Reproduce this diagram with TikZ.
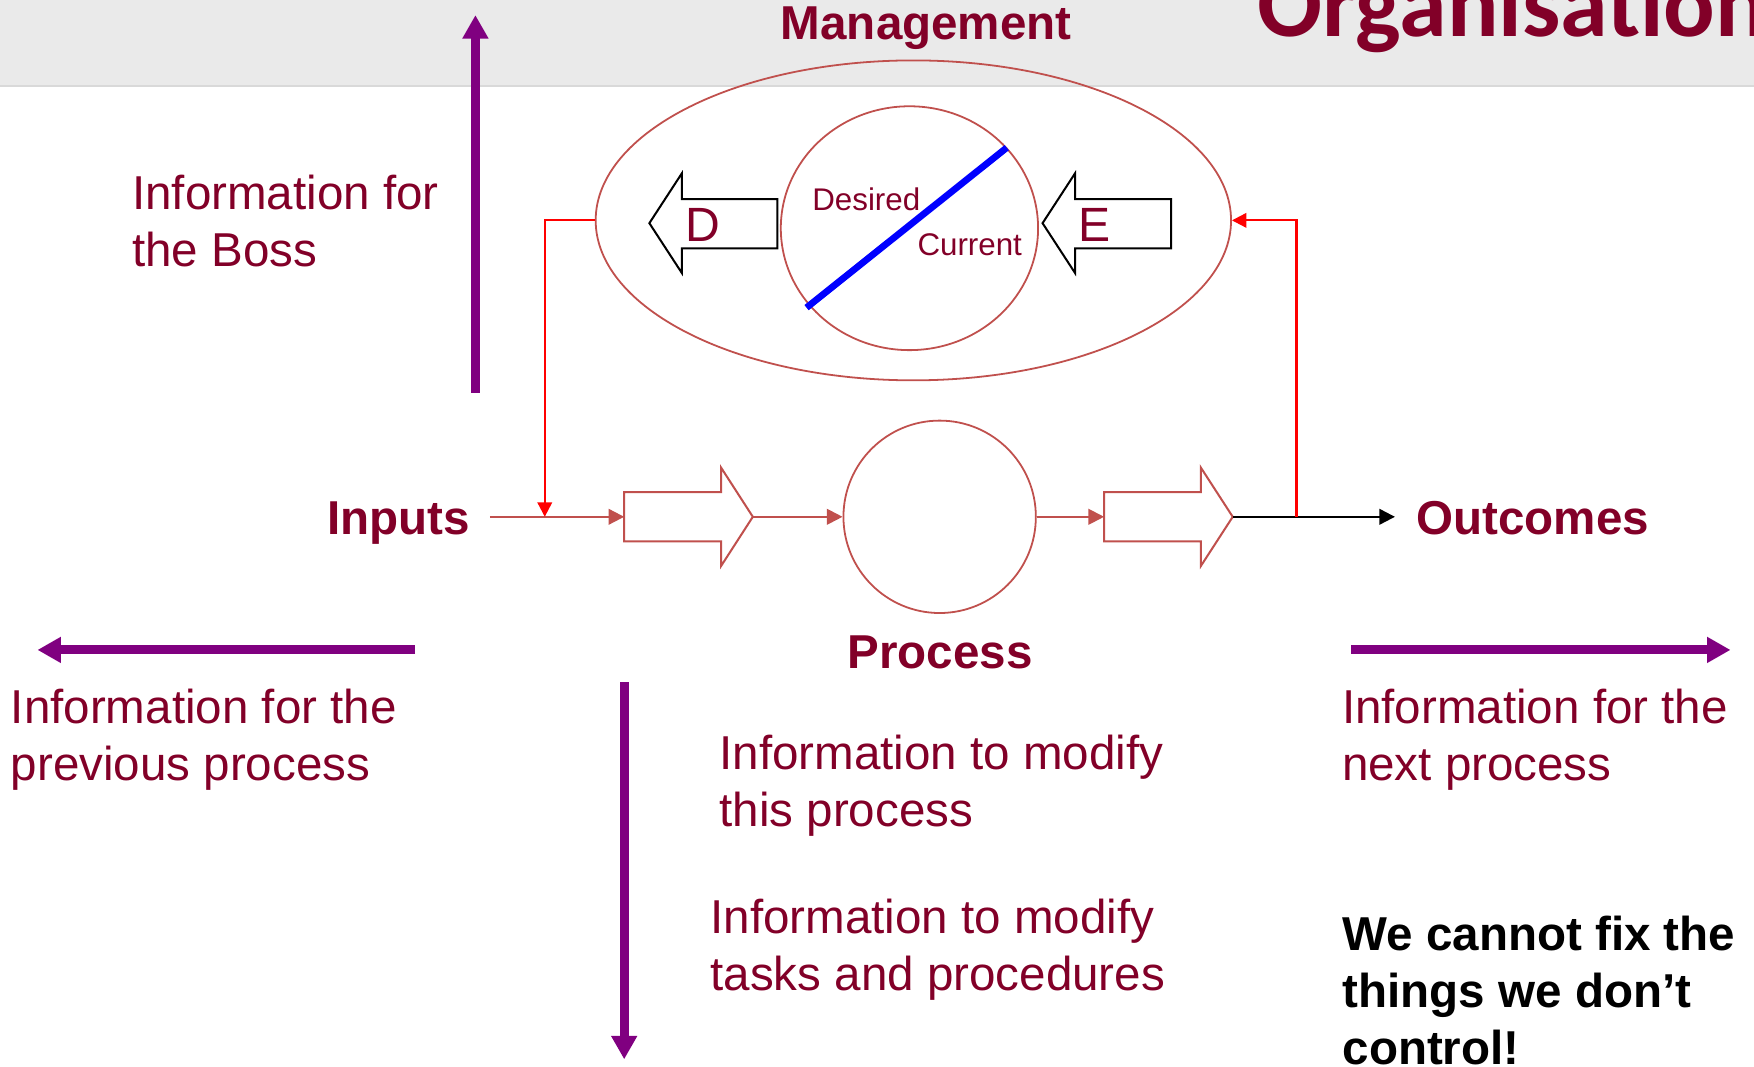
\documentclass[tikz,border=0pt]{standalone}
\usepackage{fontspec}
\setmainfont{Liberation Sans}
\newfontfamily\carlito{Carlito}
\usetikzlibrary{arrows.meta,shapes.geometric}
\definecolor{txt}{RGB}{130,0,40}
\definecolor{purp}{RGB}{128,0,128}
\definecolor{brn}{RGB}{192,80,77}
\definecolor{hdr}{RGB}{234,234,234}
\definecolor{hdrline}{RGB}{217,217,217}
\definecolor{bluel}{RGB}{0,0,255}
\newcommand\mylines[1]{\begin{tabular}[t]{@{}l@{}}#1\end{tabular}}
\begin{document}
\begin{tikzpicture}[x=1pt,y=-1pt,
  label/.style={inner sep=0pt,anchor=base west,text=txt,font=\fontsize{42.5}{51}\selectfont},
  boldlabel/.style={inner sep=0pt,text=txt,font=\fontsize{42.5}{51}\selectfont\bfseries},
  smalltext/.style={inner sep=0pt,anchor=base west,text=txt,font=\fontsize{28}{34}\selectfont},
  bigletter/.style={inner sep=0pt,anchor=base west,text=txt,font=\fontsize{43}{50}\selectfont},
  brownshape/.style={draw=brn,line width=1.6pt},
  brownline/.style={draw=brn,line width=1.8pt,-{Triangle[length=14pt,width=14pt]}},
  redline/.style={draw=red,line width=2pt,-{Triangle[length=13pt,width=13pt]}},
  blackline/.style={draw=black,line width=2pt,-{Triangle[length=14pt,width=14pt]}},
  purparrow/.style={draw=purp,line width=8pt,-{Triangle[length=21pt,width=22pt]}},
  blockarrow/.style={draw=brn,line width=1.8pt,fill=white,line join=miter},
  decisionarrow/.style={draw=black,line width=1.8pt,fill=white,line join=miter},
]
\useasboundingbox (0,0) rectangle (1568,953);
\clip (0,0) rectangle (1568,953);

% header band
\fill[hdr] (0,0) rectangle (1568,77);
\draw[hdrline,line width=2pt] (0,77) -- (1568,77);
\node[inner sep=0pt,anchor=base west,text=txt,font=\fontsize{86}{95}\selectfont\carlito\bfseries] (org) at (1124,33) {Organisation};
\node[boldlabel,anchor=base] (mgmttitle) at (828,35) {Management};

% management ellipse and comparator
\node[brownshape,ellipse,minimum width=568pt,minimum height=286pt,inner sep=0pt] (mgmt) at (816.5,197) {};
\node[brownshape,ellipse,minimum width=230pt,minimum height=218pt,inner sep=0pt] (cmp) at (813,204) {};
\coordinate (bl1) at (721,275);
\coordinate (bl2) at (900,132);
\draw[bluel,line width=6pt] (bl1) -- (bl2);
\node[smalltext] (desired) at (726,188.6) {Desired};
\node[smalltext] (current) at (820,228.4) {Current};

% D and E arrows
\draw[decisionarrow] (695,178) -- (609.5,178) -- (609.5,155) -- (580.5,199.5) -- (609.5,244) -- (609.5,222) -- (695,222) -- cycle;
\node[bigletter] (dlet) at (612.5,216) {D};
\draw[decisionarrow] (1047,178) -- (961,178) -- (961,155) -- (932,199.5) -- (961,244) -- (961,222) -- (1047,222) -- cycle;
\node[bigletter] (elet) at (964,216) {E};

% process chain
\node[boldlabel,anchor=base east] (inputs) at (420,478) {Inputs};
\coordinate (instart) at (438,462);
\coordinate (a1tail) at (558,462);
\coordinate (a1tip) at (673,462);
\draw[blockarrow] (558,440) -- (644.6,440) -- (644.6,418) -- (673,462) -- (644.6,506) -- (644.6,484) -- (558,484) -- cycle;
\node[brownshape,circle,minimum size=172pt,inner sep=0pt] (proc) at (840,462) {};
\coordinate (a2tail) at (987,462);
\coordinate (a2tip) at (1102,462);
\draw[blockarrow] (987,440) -- (1073.5,440) -- (1073.5,418) -- (1102,462) -- (1073.5,506) -- (1073.5,484) -- (987,484) -- cycle;
\coordinate (outend) at (1247,462);
\node[boldlabel,anchor=base west] (outcomes) at (1266,478) {Outcomes};
\node[boldlabel,anchor=base] (process) at (840.5,598) {Process};

\draw[brownline] (instart) -- (a1tail);
\draw[brownline] (a1tip) -- (proc.west);
\draw[brownline] (proc.east) -- (a2tail);
\draw[blackline] (a2tip) -- (outend);

% feedback loops
\coordinate (fbin) at (487,462);
\coordinate (fbout) at (1159,462);
\draw[redline] (mgmt.west) -| (fbin);
\draw[redline] (fbout) |- (mgmt.east);

% purple information arrows
\coordinate (up1) at (425,351);
\coordinate (up2) at (425,13.5);
\draw[purparrow] (up1) -- (up2);
\coordinate (lf1) at (371,581);
\coordinate (lf2) at (33.5,581);
\draw[purparrow] (lf1) -- (lf2);
\coordinate (rt1) at (1208,581);
\coordinate (rt2) at (1547,581);
\draw[purparrow] (rt1) -- (rt2);
\coordinate (dn1) at (558,610);
\coordinate (dn2) at (558,947);
\draw[purparrow] (dn1) -- (dn2);

% information texts
\node[label] (boss) at (118,187) {\mylines{Information for\\the Boss}};
\node[label] (prev) at (9.5,647) {\mylines{Information for the\\previous process}};
\node[label] (next) at (1199.5,647) {\mylines{Information for the\\next process}};
\node[label] (modproc) at (643,688) {\mylines{Information to modify\\this process}};
\node[label] (modtask) at (635,834.5) {\mylines{Information to modify\\tasks and procedures}};
\node[inner sep=0pt,anchor=base west,text=black,font=\fontsize{42.5}{51}\selectfont\bfseries] (fix) at (1200,849.5) {\mylines{We cannot fix the\\things we don’t\\control!}};
\end{tikzpicture}
\end{document}
